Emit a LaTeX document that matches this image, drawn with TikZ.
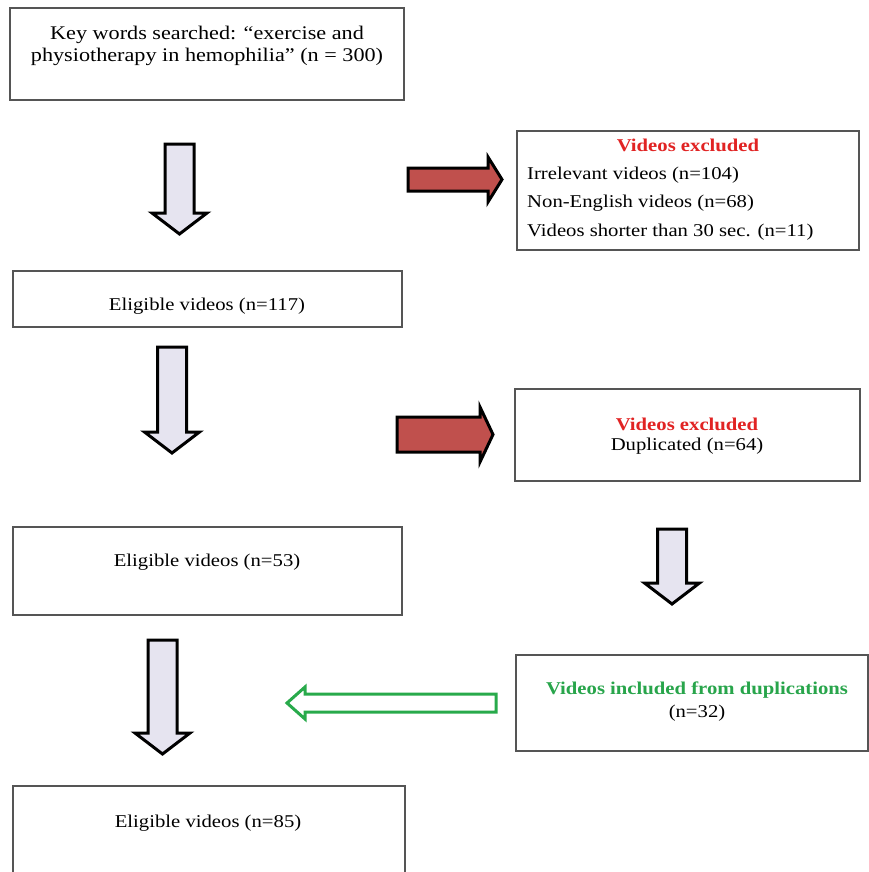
\documentclass[tikz,border=0pt]{standalone}
\usepackage{fontspec}
\setmainfont{Liberation Serif}[FakeStretch=1.15]
\usepackage{xcolor}
\usepackage{tikz}
\usetikzlibrary{positioning,calc}
\definecolor{boxline}{RGB}{85,85,85}
\definecolor{arrowlilac}{RGB}{230,228,240}
\definecolor{arrowred}{RGB}{192,80,77}
\definecolor{arrowgreen}{RGB}{40,170,75}
\definecolor{titlered}{RGB}{225,35,35}
\definecolor{titlegreen}{RGB}{40,165,75}
\tikzset{
  box/.style      = {rectangle, draw=boxline, line width=1.2pt, fill=white},
  txt/.style      = {inner sep=0pt, font=\fontsize{18}{22}\selectfont},
  bigtxt/.style   = {inner sep=0pt, font=\fontsize{19.3}{22}\selectfont},
  exctitle/.style = {txt, font=\fontsize{18}{22}\selectfont\bfseries, text=titlered},
  inctitle/.style = {txt, font=\fontsize{18}{22}\selectfont\bfseries, text=titlegreen},
  blockdown/.style  = {draw=black, line width=3pt, fill=arrowlilac, line join=miter},
  blockred/.style   = {draw=black, line width=3pt, fill=arrowred, line join=miter,
                       preaction={draw=black, fill=black, transform canvas={shift={(1,1.5)}}}},
  blockgreen/.style = {draw=arrowgreen, line width=3pt, fill=white, line join=miter},
  pics/downarr/.style = {code={
    \draw[pic actions] (-14.5,0) -- (14.5,0) -- (14.5,#1-21) -- (27.5,#1-21)
      -- (0,#1) -- (-27.5,#1-21) -- (-14.5,#1-21) -- cycle;}},
  pics/rightarr/.style n args = {4}{code={
    \draw[pic actions] (0,-#2) -- (#1-#4,-#2) -- (#1-#4,-#3) -- (#1,0)
      -- (#1-#4,#3) -- (#1-#4,#2) -- (0,#2) -- cycle;}},
}

\begin{document}
\begin{tikzpicture}[x=1pt, y=-1pt]
\useasboundingbox (0,0) rectangle (869,872);

% search
\node[box, minimum width=394, minimum height=92] (search) at (207,54) {};
\node[bigtxt, align=center] (searchtxt) at (207,46)
  {Key words searched: “exercise and\\physiotherapy in hemophilia” (n = 300)};

% first exclusion
\node[box, minimum width=342, minimum height=119] (excl1) at (688,190.5) {};
\node[exctitle] (excl1title) at (688,145) {Videos excluded};
\node[txt, anchor=west] (irrel) at (527,175) {Irrelevant videos (n=104)};
\node[txt, anchor=west] (noneng) at (527,203) {Non-English videos (n=68)};
\node[txt, anchor=west] (short) at (527,232) {Videos shorter than 30 sec. (n=11)};

% eligible 117
\node[box, minimum width=389, minimum height=56] (elig1) at (207.5,299) {};
\node[txt] (elig1txt) at (207,306) {Eligible videos (n=117)};

% second exclusion
\node[box, minimum width=345, minimum height=92] (excl2) at (687.5,435) {};
\node[exctitle] (excl2title) at (687,424) {Videos excluded};
\node[txt] (dup) at (687,446) {Duplicated (n=64)};

% eligible 53
\node[box, minimum width=389, minimum height=88] (elig2) at (207.5,571) {};
\node[txt] (elig2txt) at (207,562) {Eligible videos (n=53)};

% included from duplications
\node[box, minimum width=352, minimum height=96] (incl) at (692,703) {};
\node[inctitle] (incltitle) at (697,690) {Videos included from duplications};
\node[txt] (incln) at (697,713) {(n=32)};

% eligible 85
\node[box, minimum width=392, minimum height=92] (elig3) at (209,832) {};
\node[txt] (elig3txt) at (208,823) {Eligible videos (n=85)};

% block arrows
\pic[blockdown] at (179.5,144) {downarr=90};
\pic[blockdown] at (172,347) {downarr=106};
\pic[blockdown] at (672,529) {downarr=75};
\pic[blockdown] at (162.5,640) {downarr=114};
\pic[blockred] at (408,179.5) {rightarr={94}{11.5}{22.5}{14}};
\pic[blockred] at (397,434.5) {rightarr={96}{17.5}{27.5}{13}};
\pic[blockgreen, xscale=-1] at (496,703) {rightarr={209}{9}{16}{18}};

\end{tikzpicture}
\end{document}
